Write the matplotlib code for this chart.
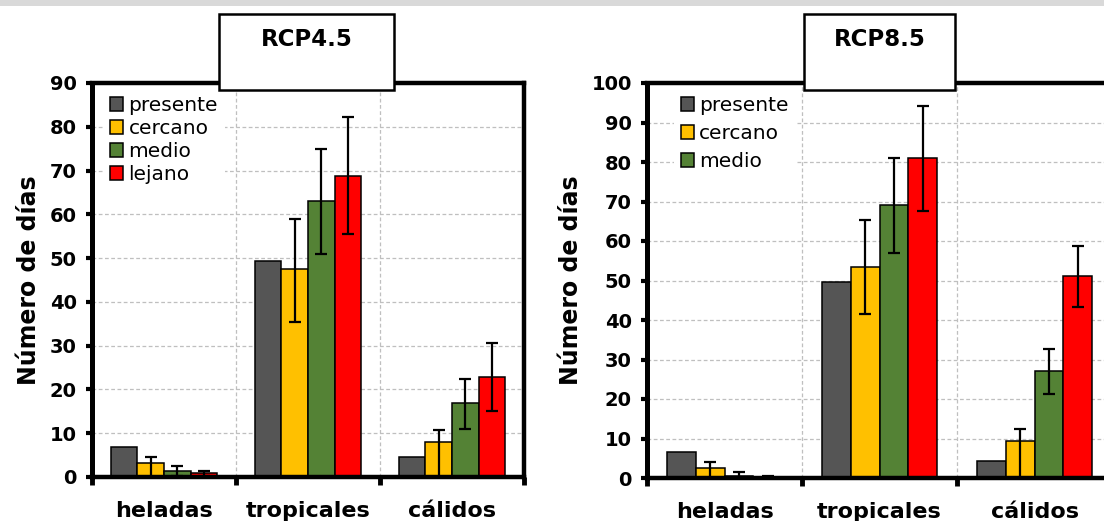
import numpy as np
import matplotlib
matplotlib.use("Agg")
import matplotlib.pyplot as plt
from matplotlib.patches import Rectangle

plt.rcParams['font.family'] = ['DejaVu Sans']

categories = ['heladas', 'tropicales', 'cálidos']
periods = ['presente', 'cercano', 'medio', 'lejano']
colors = ['#555555', '#FFC000', '#548235', '#FF0000']

# RCP4.5: days per index, with lower / upper error
rcp45_values = {
    'presente': [6.8, 49.3, 4.5],
    'cercano': [3.2, 47.5, 7.9],
    'medio': [1.4, 63.0, 16.8],
    'lejano': [0.8, 68.8, 22.9],
}
rcp45_err_lo = {
    'cercano': [3.2, 12.2, 7.9],
    'medio': [1.2, 12.0, 5.8],
    'lejano': [0.5, 13.3, 7.8],
}
rcp45_err_hi = {
    'cercano': [1.4, 11.5, 2.9],
    'medio': [1.1, 12.0, 5.7],
    'lejano': [0.6, 13.5, 7.8],
}

# RCP8.5
rcp85_values = {
    'presente': [6.5, 49.5, 4.3],
    'cercano': [2.5, 53.5, 9.4],
    'medio': [0.6, 69.0, 27.0],
    'lejano': [0.2, 81.0, 51.2],
}
rcp85_err_lo = {
    'cercano': [2.5, 12.0, 9.4],
    'medio': [0.6, 12.0, 5.8],
    'lejano': [0.2, 13.5, 7.8],
}
rcp85_err_hi = {
    'cercano': [1.6, 11.7, 3.1],
    'medio': [0.9, 12.0, 5.6],
    'lejano': [0.3, 13.3, 7.6],
}

W, H = 1104, 521
fig = plt.figure(figsize=(W / 100, H / 100), dpi=100)

# light band along the top edge
fig.patches.append(Rectangle((0, 1 - 6 / H), 1, 6 / H, transform=fig.transFigure,
                             facecolor='#d9d9d9', edgecolor='none', zorder=0))


def panel(rect, values, err_lo, err_hi, ymax, n_legend, labelspacing, leg_x):
    ax = fig.add_axes(rect)
    bw = 0.185
    x = np.arange(len(categories)) + 0.5
    handles = []
    for j, p in enumerate(periods):
        xs = x + (j - 1.5) * bw
        b = ax.bar(xs, values[p], width=bw, color=colors[j], edgecolor='black',
                   linewidth=1.1, zorder=3, label=p)
        handles.append(b)
        if p in err_lo:
            ax.errorbar(xs, values[p], yerr=[err_lo[p], err_hi[p]], fmt='none',
                        ecolor='black', elinewidth=1.6, capsize=4.5, capthick=1.6,
                        zorder=4)
    ax.set_xlim(0, 3)
    ax.set_ylim(0, ymax)
    ax.set_yticks(np.arange(0, ymax + 1, 10))
    ax.set_xticks([0, 1, 2, 3])
    ax.set_xticklabels([])
    ax.set_xticks(x, minor=True)
    ax.set_xticklabels(categories, minor=True, fontsize=16, fontweight='bold')
    ax.tick_params(axis='x', which='minor', length=0, pad=17)
    ax.tick_params(axis='x', which='major', direction='out', length=6, width=3.5)
    ax.tick_params(axis='y', direction='out', length=4, width=3, labelsize=14, pad=7)
    for lab in ax.get_yticklabels():
        lab.set_fontweight('bold')
    for s in ax.spines.values():
        s.set_linewidth(3.2)
        s.set_zorder(5)
    ax.spines['left'].set_linewidth(3.6)
    ax.grid(True, axis='y', linestyle=(0, (3, 2)), color='#bfbfbf', linewidth=0.9, zorder=1)
    ax.grid(True, axis='x', which='major', linestyle=(0, (3, 2)), color='#bfbfbf',
            linewidth=0.9, zorder=1)
    ax.set_ylabel('Número de días', fontsize=17, fontweight='bold', labelpad=6)
    leg = ax.legend(handles=handles[:n_legend], loc='upper left', bbox_to_anchor=(leg_x, 1.0),
                    frameon=True, fancybox=False, edgecolor='none', facecolor='white',
                    framealpha=1, fontsize=14.5, handlelength=0.65, handleheight=0.65,
                    handletextpad=0.25, labelspacing=labelspacing, borderpad=0.35,
                    borderaxespad=0.3)
    leg.set_zorder(6)
    return ax


panel([92 / W, 44 / H, 432 / W, 394 / H], rcp45_values, rcp45_err_lo, rcp45_err_hi,
      90, 4, 0.2, 0.012)
panel([647 / W, 43 / H, 465 / W, 395 / H], rcp85_values, rcp85_err_lo, rcp85_err_hi,
      100, 3, 0.45, 0.045)

# scenario header boxes
for x0, x1, name in [(219, 394, 'RCP4.5'), (804, 955, 'RCP8.5')]:
    fig.patches.append(Rectangle((x0 / W, 1 - 90 / H), (x1 - x0) / W, 76 / H,
                                 transform=fig.transFigure, facecolor='white',
                                 edgecolor='black', linewidth=1.8, zorder=10))
    fig.text((x0 + x1) / 2 / W, 1 - 39 / H, name, ha='center', va='center',
             fontsize=16.5, fontweight='bold', zorder=11)

fig.savefig('out.png', dpi=100)
